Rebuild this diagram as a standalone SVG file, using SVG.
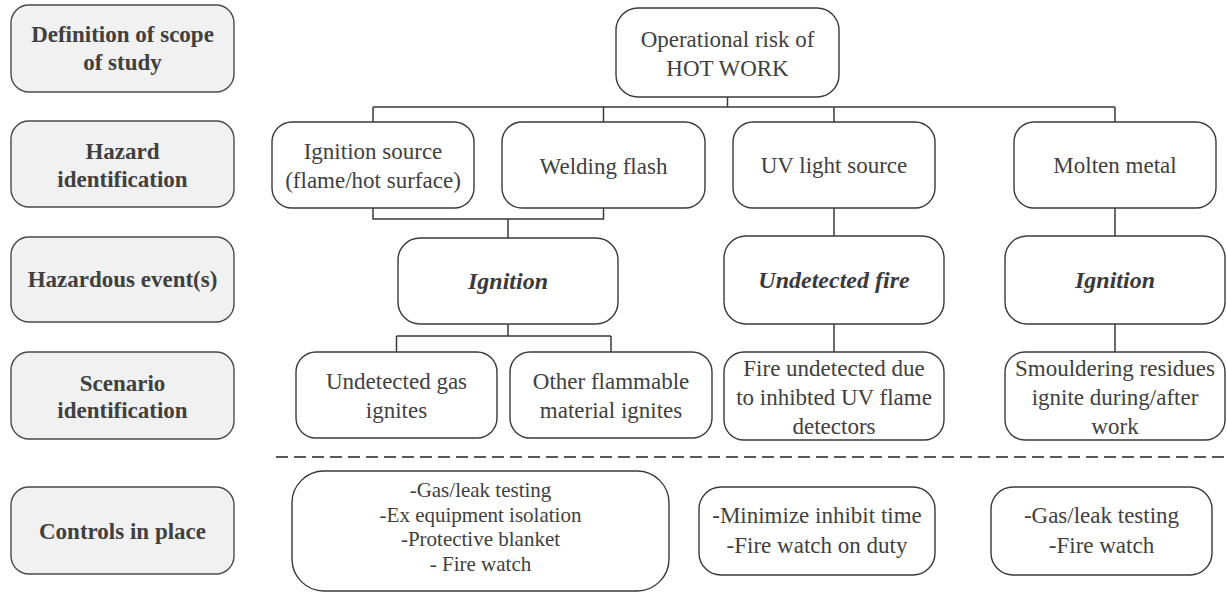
<svg xmlns="http://www.w3.org/2000/svg" width="1227" height="600" viewBox="0 0 1227 600">
  <defs>
    <style>
      .stage rect { fill: #f1f1f1; stroke: #4a4a4a; stroke-width: 1.4; }
      .node rect { fill: #ffffff; stroke: #3a3a3a; stroke-width: 1.4; }
      .stage text { font-family: "Liberation Serif", "DejaVu Serif", serif; font-size: 23px; font-weight: bold; fill: #404040; text-anchor: middle; }
      .node text { font-family: "Liberation Serif", "DejaVu Serif", serif; font-size: 23px; fill: #404040; text-anchor: middle; }
      .node text.event { font-size: 24px; font-weight: bold; font-style: italic; fill: #3a3a3a; }
      .node text.small { font-size: 21px; }
      .links path { fill: none; stroke: #3a3a3a; stroke-width: 1.5; }
      .divider { stroke: #222222; stroke-width: 1.6; stroke-dasharray: 12 6; }
    </style>
  </defs>
  <rect width="1227" height="600" fill="#ffffff"/>

  <!-- Stage labels (left column) -->
  <g id="stage-scope" class="stage">
    <rect x="11" y="5" width="223" height="87" rx="18"/>
    <text x="122.5" y="42">Definition of scope</text>
    <text x="122.5" y="70">of study</text>
  </g>
  <g id="stage-hazard" class="stage">
    <rect x="11" y="121" width="223" height="86" rx="18"/>
    <text x="122.5" y="159">Hazard</text>
    <text x="122.5" y="187">identification</text>
  </g>
  <g id="stage-event" class="stage">
    <rect x="11" y="237" width="223" height="85" rx="18"/>
    <text x="122.5" y="287">Hazardous event(s)</text>
  </g>
  <g id="stage-scenario" class="stage">
    <rect x="11" y="352" width="223" height="87" rx="18"/>
    <text x="122.5" y="391">Scenario</text>
    <text x="122.5" y="418">identification</text>
  </g>
  <g id="stage-controls" class="stage">
    <rect x="11" y="487" width="223" height="87" rx="18"/>
    <text x="122.5" y="539">Controls in place</text>
  </g>

  <!-- Connectors -->
  <g id="connectors" class="links">
    <path d="M727.5 97 V107 M373 107 H1115 M373 107 V122 M603.5 107 V122 M834 107 V122 M1115 107 V122"/>
    <path d="M373 208 V219 H603.5 V208 M508 219 V238"/>
    <path d="M834 208 V236 M1115 208 V236"/>
    <path d="M508 324 V336 M396.5 336 H611 M396.5 336 V352 M611 336 V352"/>
    <path d="M834 324 V352 M1115 324 V352"/>
  </g>

  <!-- Root -->
  <g id="root" class="node">
    <rect x="616" y="8" width="223" height="89" rx="22"/>
    <text x="727.5" y="47">Operational risk of</text>
    <text x="727.5" y="76">HOT WORK</text>
  </g>

  <!-- Hazards -->
  <g id="hazard-ignition-source" class="node">
    <rect x="272" y="122" width="202" height="86" rx="20"/>
    <text x="373" y="159">Ignition source</text>
    <text x="373" y="188">(flame/hot surface)</text>
  </g>
  <g id="hazard-welding-flash" class="node">
    <rect x="502" y="122" width="203" height="86" rx="20"/>
    <text x="603.5" y="174">Welding flash</text>
  </g>
  <g id="hazard-uv-light" class="node">
    <rect x="733" y="122" width="202" height="86" rx="20"/>
    <text x="834" y="173">UV light source</text>
  </g>
  <g id="hazard-molten-metal" class="node">
    <rect x="1014" y="122" width="202" height="86" rx="20"/>
    <text x="1115" y="173">Molten metal</text>
  </g>

  <!-- Hazardous events -->
  <g id="event-ignition-a" class="node">
    <rect x="398" y="238" width="220" height="86" rx="22"/>
    <text class="event" x="508" y="289">Ignition</text>
  </g>
  <g id="event-undetected-fire" class="node">
    <rect x="724" y="236" width="220" height="88" rx="22"/>
    <text class="event" x="834" y="288">Undetected fire</text>
  </g>
  <g id="event-ignition-b" class="node">
    <rect x="1005" y="236" width="220" height="88" rx="22"/>
    <text class="event" x="1115" y="288">Ignition</text>
  </g>

  <!-- Scenarios -->
  <g id="scenario-gas" class="node">
    <rect x="296" y="352" width="201" height="86" rx="20"/>
    <text x="396.5" y="389">Undetected gas</text>
    <text x="396.5" y="418">ignites</text>
  </g>
  <g id="scenario-material" class="node">
    <rect x="510" y="352" width="202" height="86" rx="20"/>
    <text x="611" y="389">Other flammable</text>
    <text x="611" y="418">material ignites</text>
  </g>
  <g id="scenario-uv" class="node">
    <rect x="724" y="352" width="220" height="88" rx="20"/>
    <text x="834" y="376">Fire undetected due</text>
    <text x="834" y="405">to inhibted UV flame</text>
    <text x="834" y="434">detectors</text>
  </g>
  <g id="scenario-residues" class="node">
    <rect x="1005" y="352" width="220" height="88" rx="20"/>
    <text x="1115" y="376">Smouldering residues</text>
    <text x="1115" y="405">ignite during/after</text>
    <text x="1115" y="434">work</text>
  </g>

  <!-- Divider between scenarios and controls -->
  <line class="divider" x1="276" y1="457" x2="1227" y2="457"/>

  <!-- Controls -->
  <g id="controls-ignition" class="node">
    <rect x="292" y="471" width="377" height="120" rx="32"/>
    <text class="small" x="480.5" y="497">-Gas/leak testing</text>
    <text class="small" x="480.5" y="522">-Ex equipment isolation</text>
    <text class="small" x="480.5" y="546">-Protective blanket</text>
    <text class="small" x="480.5" y="571">- Fire watch</text>
  </g>
  <g id="controls-uv" class="node">
    <rect x="699" y="487" width="236" height="88" rx="22"/>
    <text x="817" y="523">-Minimize inhibit time</text>
    <text x="817" y="553">-Fire watch on duty</text>
  </g>
  <g id="controls-molten" class="node">
    <rect x="991" y="487" width="221" height="88" rx="22"/>
    <text x="1101.5" y="523">-Gas/leak testing</text>
    <text x="1101.5" y="553">-Fire watch</text>
  </g>
</svg>
